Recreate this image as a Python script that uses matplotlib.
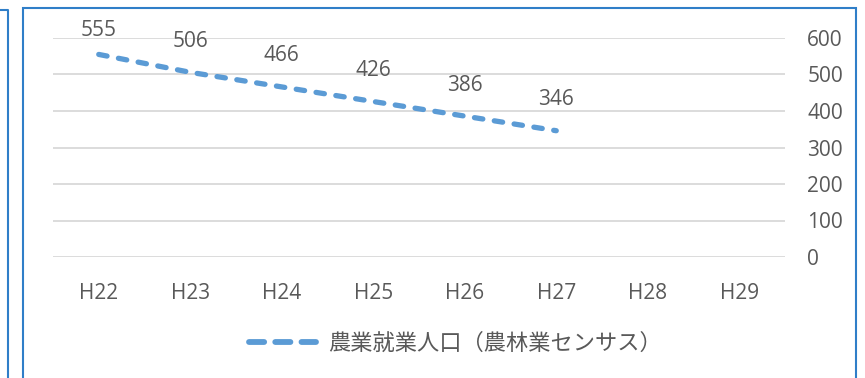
import matplotlib
matplotlib.use('Agg')
import matplotlib.pyplot as plt
from matplotlib.patches import Rectangle
from matplotlib.lines import Line2D

years = ['H22', 'H23', 'H24', 'H25', 'H26', 'H27', 'H28', 'H29']
workers = [555, 506, 466, 426, 386, 346]
series_name = '農業就業人口（農林業センサス）'
y_ticks = [0, 100, 200, 300, 400, 500, 600]

W, H = 865, 378
txt = '#595959'
blue = '#5b9bd5'
frame = '#2f7ec8'

plt.rcParams['font.family'] = ['Open Sans', 'Noto Sans CJK JP', 'DejaVu Sans']

fig = plt.figure(figsize=(W / 100, H / 100), dpi=100)
fig.patch.set_facecolor('white')

# chart frames (neighbour chart edge on the left + main chart border)
fig.add_artist(Line2D([0, 8 / W, 8 / W], [1 - 10 / H, 1 - 10 / H, 0],
                      color=frame, lw=1.5, transform=fig.transFigure))
fig.add_artist(Rectangle((23 / W, -0.05), (856 - 23) / W, 1 - 8 / H + 0.05,
                         fill=False, ec=frame, lw=1.5, transform=fig.transFigure))

# plot area: 600 at y=38px, 0 at y=257px, x from 53 to 785
ax = fig.add_axes([53 / W, 1 - 257 / H, (785 - 53) / W, (257 - 38) / H])
ax.set_xlim(-0.5, len(years) - 0.5)
ax.set_ylim(0, 600)
for s in ax.spines.values():
    s.set_visible(False)
ax.set_yticks(y_ticks)
ax.yaxis.tick_right()
ax.grid(axis='y', color='#d9d9d9', lw=1.3)
ax.set_axisbelow(True)
ax.set_xticks(range(len(years)))
ax.set_xticklabels(years)
ax.tick_params(length=0, labelsize=15, labelcolor=txt)
ax.tick_params(axis='y', pad=16)
ax.tick_params(axis='x', pad=19)

x = list(range(len(workers)))
ax.plot(x, workers, color=blue, lw=3.8, linestyle=(0, (1.6, 2.2)),
        dash_capstyle='round')

# data labels above the points, kept inside the chart frame at the top
px_per_unit = (257 - 38) / 600
lab_off = 31 / px_per_unit
lab_max = 600 + 8 / px_per_unit
for xi, v in zip(x, workers):
    ax.text(xi, min(v + lab_off, lab_max), str(v), ha='center', va='center',
            fontsize=15, color=txt, clip_on=False)

handle = Line2D([], [], color=blue, lw=4.2, linestyle=(0, (2.6, 1.9)),
                dash_capstyle='round')
leg = ax.legend([handle], [series_name], loc='center left',
                bbox_to_anchor=(240 / W, 1 - 343 / H),
                bbox_transform=fig.transFigure, frameon=False,
                handlelength=3.0, handletextpad=0.55, borderaxespad=0,
                prop={'family': ['Noto Sans CJK JP', 'DejaVu Sans'], 'size': 16})
for t in leg.get_texts():
    t.set_color(txt)

fig.savefig('out.png', dpi=100)
